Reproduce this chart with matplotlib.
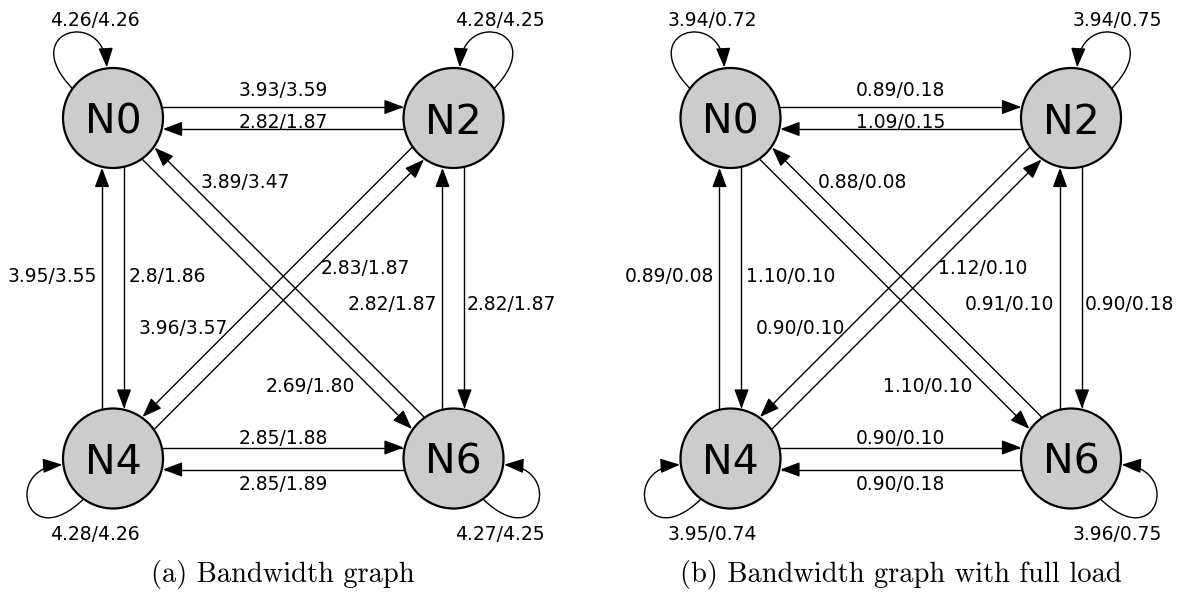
import numpy as np
import matplotlib
matplotlib.use("Agg")
import matplotlib.pyplot as plt
from matplotlib.patches import Circle, FancyArrowPatch, ArrowStyle
from matplotlib.path import Path

# graph data
nodes = ["N0", "N2", "N4", "N6"]
edges = [("N0", "N0"), ("N2", "N2"), ("N4", "N4"), ("N6", "N6"),
         ("N0", "N2"), ("N2", "N0"), ("N0", "N4"), ("N4", "N0"),
         ("N2", "N6"), ("N6", "N2"), ("N0", "N6"), ("N6", "N0"),
         ("N2", "N4"), ("N4", "N2"), ("N4", "N6"), ("N6", "N4")]
bw_plain = ["4.26/4.26", "4.28/4.25", "4.28/4.26", "4.27/4.25",
            "3.93/3.59", "2.82/1.87", "2.8/1.86", "3.95/3.55",
            "2.82/1.87", "2.82/1.87", "2.69/1.80", "3.89/3.47",
            "3.96/3.57", "2.83/1.87", "2.85/1.88", "2.85/1.89"]
bw_full = ["3.94/0.72", "3.94/0.75", "3.95/0.74", "3.96/0.75",
           "0.89/0.18", "1.09/0.15", "1.10/0.10", "0.89/0.08",
           "0.90/0.18", "0.91/0.10", "1.10/0.10", "0.88/0.08",
           "0.90/0.10", "1.12/0.10", "0.90/0.10", "0.90/0.18"]
captions = ["(a) Bandwidth graph", "(b) Bandwidth graph with full load"]

# layout (pixel units, y down)
W, H = 1183, 592
panel_x = [113, 730.5]
top_y = 118
step = 340.5
radius = 50
grid = {"N0": (0, 0), "N2": (1, 0), "N4": (0, 1), "N6": (1, 1)}
loop_angles = {"N0": (-144, -97), "N2": (-36, -83), "N4": (126, 173), "N6": (54, 7)}
label_at = {
    ("N0", "N0"): (-18, -99, "center"),
    ("N2", "N2"): (387, -99, "center"),
    ("N4", "N4"): (-18, 414, "center"),
    ("N6", "N6"): (387, 414, "center"),
    ("N0", "N2"): (170, -30, "center"),
    ("N2", "N0"): (170, 2, "center"),
    ("N0", "N4"): (16, 157, "left"),
    ("N4", "N0"): (-16, 157, "right"),
    ("N2", "N6"): (354, 185, "left"),
    ("N6", "N2"): (324, 185, "right"),
    ("N0", "N6"): (197, 267, "center"),
    ("N6", "N0"): (132, 62, "center"),
    ("N2", "N4"): (70, 209, "center"),
    ("N4", "N2"): (252, 149, "center"),
    ("N4", "N6"): (170, 319, "center"),
    ("N6", "N4"): (170, 365, "center"),
}

head = ArrowStyle("-|>", head_length=1.2, head_width=0.45)


def unit(deg):
    a = np.radians(deg)
    return np.array([np.cos(a), np.sin(a)])


def center(x0, name):
    c, r = grid[name]
    return np.array([x0 + c * step, top_y + r * step])


def arrow(ax, verts, codes):
    p = FancyArrowPatch(path=Path(verts, codes), arrowstyle=head,
                        mutation_scale=10, lw=1.0, color="black", zorder=2)
    ax.add_patch(p)


def draw_panel(ax, x0, labels, caption):
    for (u, v), lab in zip(edges, labels):
        cu = center(x0, u)
        if u == v:
            # self loop as one cubic curve
            a0, a1 = loop_angles[u]
            s = np.sign(a0 - a1)
            verts = [cu + radius * unit(a0), cu + 130 * unit(a0 - 6 * s),
                     cu + 111 * unit(a1 - 2 * s), cu + (radius + 1) * unit(a1)]
            arrow(ax, verts, [Path.MOVETO, Path.CURVE4, Path.CURVE4, Path.CURVE4])
        else:
            cv = center(x0, v)
            d = (cv - cu) / np.linalg.norm(cv - cu)
            n = np.array([d[1], -d[0]])
            diag = abs(d[0]) > 0.1 and abs(d[1]) > 0.1
            h = -8.5 if diag else 11
            along = np.sqrt(radius ** 2 - h ** 2)
            start = cu + n * h + d * along
            end = cv + n * h - d * (along + 1)
            arrow(ax, [start, end], [Path.MOVETO, Path.LINETO])
        dx, dy, ha = label_at[(u, v)]
        ax.text(x0 + dx, top_y + dy, lab, ha=ha, va="center_baseline",
                fontsize=13.5, color="black")
    for name in nodes:
        c = center(x0, name)
        ax.add_patch(Circle(c, radius, facecolor="#cccccc", edgecolor="black",
                            lw=1.6, zorder=3))
        ax.text(c[0], c[1], name, ha="center", va="center_baseline",
                fontsize=29.5, zorder=4)
    ax.text(x0 + step / 2, 582, caption, ha="center", va="baseline",
            fontsize=20.5, fontfamily="cmr10")


def main():
    fig = plt.figure(figsize=(W / 100, H / 100), dpi=100)
    ax = fig.add_axes([0, 0, 1, 1])
    ax.set_xlim(0, W)
    ax.set_ylim(H, 0)
    ax.axis("off")
    draw_panel(ax, panel_x[0], bw_plain, captions[0])
    draw_panel(ax, panel_x[1], bw_full, captions[1])
    fig.savefig("out.png", dpi=100)


if __name__ == '__main__':
    main()
